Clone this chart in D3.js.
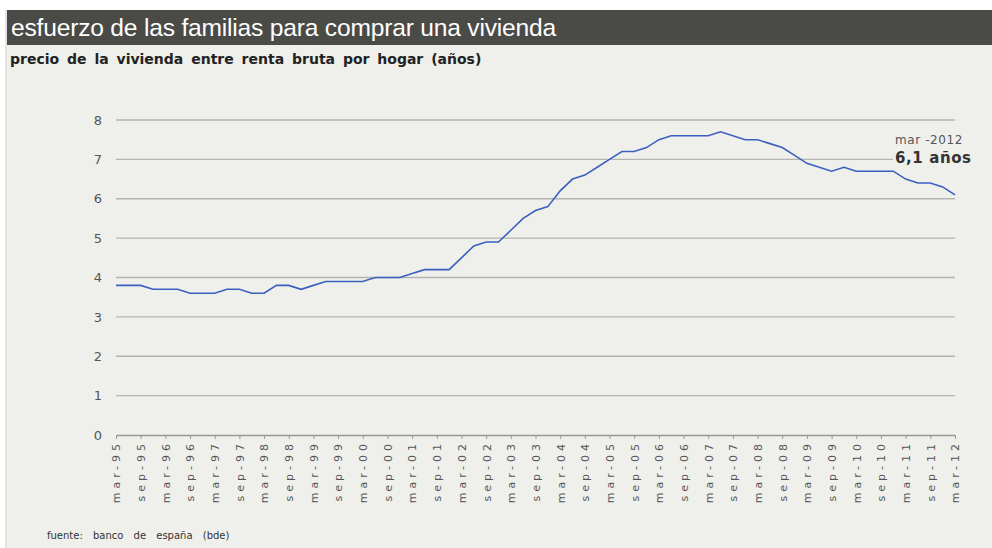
<!DOCTYPE html>
<html>
<head>
<meta charset="utf-8">
<script src="https://cdn.jsdelivr.net/npm/d3@7"></script>
<style>
    body {margin: 0; background: #fff; overflow: hidden;}
    .grid line {stroke: #b4b4b2; stroke-width: 1.3;}
    .axis text {fill: #555; font-family: 'DejaVu Sans', Verdana, sans-serif;}
    .line {fill: none; stroke: #3b5fbf; stroke-width: 1.6;}
</style>
</head>
<body>
<div id="chart"></div>
<script>
// trimestres (mar, jun, sep, dic) de 1995 a 2012
const years = ['95','96','97','98','99','00','01','02','03','04','05','06','07','08','09','10','11','12']
const months = ['mar','jun','sep','dic']
// precio de la vivienda / renta bruta por hogar, un valor por trimestre
const values = [
    3.8, 3.8, 3.8, 3.7, 3.7, 3.7, 3.6, 3.6, 3.6, 3.7,
    3.7, 3.6, 3.6, 3.8, 3.8, 3.7, 3.8, 3.9, 3.9, 3.9,
    3.9, 4.0, 4.0, 4.0, 4.1, 4.2, 4.2, 4.2, 4.5, 4.8,
    4.9, 4.9, 5.2, 5.5, 5.7, 5.8, 6.2, 6.5, 6.6, 6.8,
    7.0, 7.2, 7.2, 7.3, 7.5, 7.6, 7.6, 7.6, 7.6, 7.7,
    7.6, 7.5, 7.5, 7.4, 7.3, 7.1, 6.9, 6.8, 6.7, 6.8,
    6.7, 6.7, 6.7, 6.7, 6.5, 6.4, 6.4, 6.3, 6.1
]
const tickLabels = [
    'mar-95','sep-95','mar-96','sep-96','mar-97','sep-97','mar-98','sep-98','mar-99','sep-99',
    'mar-00','sep-00','mar-01','sep-01','mar-02','sep-02','mar-03','sep-03','mar-04','sep-04',
    'mar-05','sep-05','mar-06','sep-06','mar-07','sep-07','mar-08','sep-08','mar-09','sep-09',
    'mar-10','sep-10','mar-11','sep-11','mar-12'
]
const yTicks = [0, 1, 2, 3, 4, 5, 6, 7, 8]
const title = 'esfuerzo de las familias para comprar una vivienda'
const subtitle = 'precio de la vivienda entre renta bruta por hogar (años)'
const lastLabel = 'mar -2012'
const lastValue = '6,1 años'
const source = 'fuente:  banco de españa (bde)'

const quarters = []
years.forEach(y => months.forEach(m => quarters.push(`${m}-${y}`)))
const data = values.map((v, i) => ({q: quarters[i], value: v}))

const W = 992, H = 548
const margin = {top: 120, right: 37, bottom: 113, left: 116}
const width = W - margin.left - margin.right
const height = H - margin.top - margin.bottom

const svg = d3.select('#chart').append('svg')
    .attr('width', W)
    .attr('height', H)

// fondo y cabecera
svg.append('rect')
    .attr('x', 7).attr('y', 45)
    .attr('width', W - 7).attr('height', H - 45)
    .attr('fill', '#eff0ec')
svg.append('rect')
    .attr('x', 7).attr('y', 10)
    .attr('width', W - 7).attr('height', 35)
    .attr('fill', '#4a4a47')
svg.append('line')
    .attr('x1', 6).attr('x2', 6)
    .attr('y1', 10).attr('y2', H)
    .attr('stroke', '#c8c8c8')
svg.append('text')
    .attr('x', 11).attr('y', 36)
    .attr('fill', '#fff')
    .style('font-family', 'Liberation Sans, Arial, sans-serif')
    .style('font-size', '24.6px')
    .style('letter-spacing', '-0.2px')
    .text(title)
svg.append('text')
    .attr('x', 10).attr('y', 64)
    .attr('fill', '#222')
    .style('font-family', 'DejaVu Sans, Verdana, sans-serif')
    .style('font-weight', 'bold')
    .style('font-size', '14px')
    .style('word-spacing', '3px')
    .text(subtitle)

const x = d3.scalePoint()
    .domain(quarters.slice(0, values.length))
    .range([0, width])
const y = d3.scaleLinear()
    .domain([0, 8])
    .range([height, 0])

const g = svg.append('g')
    .attr('transform', `translate(${margin.left},${margin.top})`)

// lineas horizontales
g.append('g')
    .attr('class', 'grid')
    .selectAll('line')
    .data(yTicks.filter(d => d > 0))
    .join('line')
    .attr('x1', 0).attr('x2', width)
    .attr('y1', d => y(d)).attr('y2', d => y(d))

// eje y (solo etiquetas)
const yAxis = g.append('g')
    .attr('class', 'axis')
    .call(d3.axisLeft(y).tickValues(yTicks).tickSize(0).tickPadding(14))
yAxis.select('.domain').remove()
yAxis.selectAll('text').style('font-size', '13px')

// eje x
const xAxis = g.append('g')
    .attr('class', 'axis')
    .attr('transform', `translate(0,${height})`)
    .call(d3.axisBottom(x).tickValues(tickLabels).tickSizeOuter(0).tickSizeInner(4))
xAxis.select('.domain').attr('stroke', '#999').attr('stroke-width', 1.3)
xAxis.selectAll('.tick line').attr('stroke', '#999')
xAxis.selectAll('text')
    .style('font-size', '11px')
    .style('letter-spacing', '4px')
    .attr('fill', '#444')
    .attr('transform', 'rotate(-90)')
    .attr('text-anchor', 'end')
    .attr('dy', '0.35em')
    .attr('y', 0)
    .attr('x', -5)

// serie
const line = d3.line()
    .x(d => x(d.q))
    .y(d => y(d.value))
g.append('path')
    .datum(data)
    .attr('class', 'line')
    .attr('d', line)

// anotacion del ultimo dato
const last = data[data.length - 1]
const ann = g.append('g')
    .attr('transform', `translate(${x(last.q) - 60},${y(7)})`)
ann.append('rect')
    .attr('x', -2).attr('y', -9)
    .attr('width', 95).attr('height', 15)
    .attr('fill', '#eff0ec')
ann.append('text')
    .attr('x', 0).attr('y', -15)
    .attr('fill', '#555')
    .style('font-family', 'DejaVu Sans, Verdana, sans-serif')
    .style('font-size', '12px')
    .style('letter-spacing', '0.6px')
    .text(lastLabel)
ann.append('text')
    .attr('x', 0).attr('y', 4)
    .attr('fill', '#333')
    .style('font-family', 'DejaVu Sans, Verdana, sans-serif')
    .style('font-weight', 'bold')
    .style('font-size', '15px')
    .style('letter-spacing', '0.6px')
    .text(lastValue)

// fuente
svg.append('text')
    .attr('x', 47).attr('y', 539)
    .attr('fill', '#333')
    .style('font-family', 'DejaVu Sans, Verdana, sans-serif')
    .style('font-size', '10px')
    .style('word-spacing', '7px')
    .text(source)
</script>
</body>
</html>
